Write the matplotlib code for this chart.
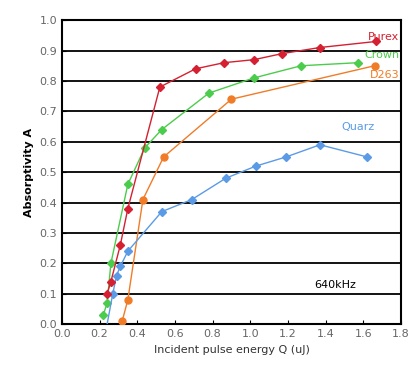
import matplotlib
matplotlib.use("Agg")
import matplotlib.pyplot as plt

# Purex
purex_x = [0.24, 0.26, 0.31, 0.35, 0.52, 0.71, 0.86, 1.02, 1.17, 1.37, 1.67]
purex_y = [0.10, 0.14, 0.26, 0.38, 0.78, 0.84, 0.86, 0.87, 0.89, 0.91, 0.93]
# Crown
crown_x = [0.22, 0.24, 0.26, 0.35, 0.44, 0.53, 0.78, 1.02, 1.27, 1.57]
crown_y = [0.03, 0.07, 0.20, 0.46, 0.58, 0.64, 0.76, 0.81, 0.85, 0.86]
# D263
d263_x = [0.32, 0.35, 0.43, 0.54, 0.90, 1.66]
d263_y = [0.01, 0.08, 0.41, 0.55, 0.74, 0.85]
# Quarz
quarz_x = [0.24, 0.27, 0.29, 0.31, 0.35, 0.53, 0.69, 0.87, 1.03, 1.19, 1.37, 1.62]
quarz_y = [0.00, 0.10, 0.16, 0.19, 0.24, 0.37, 0.41, 0.48, 0.52, 0.55, 0.59, 0.55]

fig = plt.figure(figsize=(4.1, 3.8), dpi=100)
ax = fig.add_axes([0.151, 0.147, 0.827, 0.80])

ax.plot(purex_x, purex_y, "-D", color="#d42030", ms=4.5, lw=1, zorder=4)
ax.plot(crown_x, crown_y, "-D", color="#4ccc4c", ms=4.5, lw=1, zorder=3)
ax.plot(d263_x, d263_y, "-o", color="#f07c28", ms=5, lw=1, zorder=3)
ax.plot(quarz_x[1:], quarz_y[1:], "-D", color="#5b9be6", ms=4.5, lw=1, zorder=3)
ax.plot(quarz_x[:2], quarz_y[:2], "-", color="#5b9be6", lw=1, zorder=3)

ax.set_xlim(0, 1.8)
ax.set_ylim(0, 1.0)
ax.set_xticks([i * 0.2 for i in range(10)])
ax.set_yticks([i * 0.1 for i in range(11)])
ax.set_xticklabels([f"{i * 0.2:.1f}" for i in range(10)])
ax.set_yticklabels([f"{i * 0.1:.1f}" for i in range(11)])
ax.yaxis.grid(True, color="black", lw=1.3)
ax.set_axisbelow(True)
ax.tick_params(direction="in", labelsize=8, labelcolor="#666666", length=3)
for s in ax.spines.values():
    s.set_linewidth(1.5)

ax.set_xlabel("Incident pulse energy Q (uJ)", fontsize=8, color="#333333")
ax.set_ylabel("Absorptivity A", fontsize=8, fontweight="bold")

ax.text(1.79, 0.945, "Purex", color="#d42030", fontsize=8, ha="right", va="center")
ax.text(1.79, 0.885, "Crown", color="#4ccc4c", fontsize=8, ha="right", va="center")
ax.text(1.79, 0.82, "D263", color="#f07c28", fontsize=8, ha="right", va="center")
ax.text(1.57, 0.65, "Quarz", color="#5b9be6", fontsize=8, ha="center", va="center")
ax.text(1.45, 0.13, "640kHz", color="black", fontsize=8, ha="center", va="center")

fig.savefig("out.png", dpi=100)
